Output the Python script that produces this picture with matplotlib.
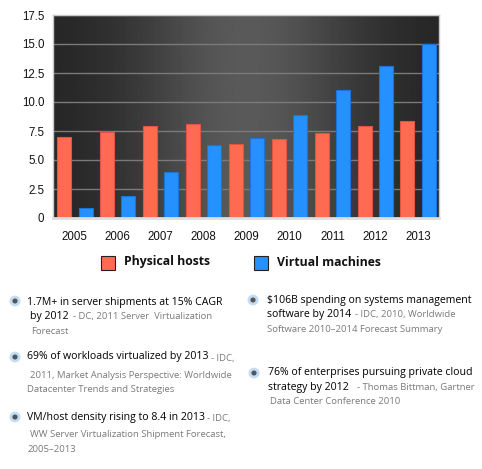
import numpy as np
import matplotlib.pyplot as plt
from matplotlib.patches import Rectangle, Circle

years = ['2005', '2006', '2007', '2008', '2009', '2010', '2011', '2012', '2013']
physical = [7.0, 7.4, 7.9, 8.1, 6.4, 6.8, 7.3, 7.9, 8.4]
virtual = [0.9, 1.9, 4.0, 6.3, 6.9, 8.9, 11.0, 13.1, 15.0]
yticks = [0, 2.5, 5.0, 7.5, 10.0, 12.5, 15.0, 17.5]
ytick_labels = ['0', '2.5', '5.0', '7.5', '10.0', '12.5', '15.0', '17.5']
series_names = ['Physical hosts', 'Virtual machines']

RED = '#ff6a52'
BLUE = '#2491ff'
W, H = 482, 469


def px(x, y):
    return x / W, 1 - y / H


fig = plt.figure(figsize=(W / 100, H / 100), dpi=100)
ax = fig.add_axes([52.7 / W, 1 - 218 / H, 386.3 / W, 203 / H])

# dark background, lighter in the middle
g = np.linspace(-1, 1, 400)
shade = 0.14 + 0.21 * np.exp(-(g / 0.6) ** 2)
img = np.tile(shade, (10, 1))
ax.imshow(img, cmap='gray', vmin=0, vmax=1, extent=[0, 1, 0, 1],
          transform=ax.transAxes, aspect='auto', zorder=0)

n = len(years)
xp = np.arange(n) * 2
xv = xp + 1
ax.bar(xp, physical, width=0.65, color=RED, edgecolor='#e0553f', linewidth=0.8, zorder=2)
ax.bar(xv, virtual, width=0.65, color=BLUE, edgecolor='#1b74d6', linewidth=0.8, zorder=2)

ax.set_xlim(-0.53, 2 * n - 0.53)
ax.set_ylim(0, 17.5)
ax.set_yticks(yticks)
ax.set_yticklabels(ytick_labels)
ax.set_xticks(xp + 0.5)
ax.set_xticklabels(years)
ax.tick_params(axis='both', length=0, labelsize=8.3, colors='#111111')
ax.tick_params(axis='y', pad=6)
ax.tick_params(axis='x', pad=9)
for lab in ax.get_xticklabels() + ax.get_yticklabels():
    lab.set_family('Liberation Sans')

ax.set_axisbelow(True)
ax.yaxis.grid(True, color='#7a7a7a', linewidth=1)
for s in ['top', 'right', 'left']:
    ax.spines[s].set_color('#c8c8c8')
    ax.spines[s].set_linewidth(1)
ax.spines['bottom'].set_color('#dddddd')
ax.spines['bottom'].set_linewidth(2)

# legend
leg_font = dict(family='Open Sans', weight='bold', fontsize=8.8, va='center', ha='left')
for (sx, tx), name, col in zip([(101, 124), (254, 277)], series_names, [RED, BLUE]):
    x0, y0 = px(sx, 270)
    fig.add_artist(Rectangle((x0, y0), 14 / W, 14 / H, transform=fig.transFigure,
                             facecolor=col, edgecolor='#222222', linewidth=0.8))
    fig.text(*px(tx, 262), name, color='#111111', **leg_font)

# notes
black = dict(family='Open Sans', fontsize=7.6, color='#000000', va='center', ha='left')
gray = dict(family='Open Sans', fontsize=6.8, color='#7a7a7a', va='center', ha='left')

bullets = [(15, 301), (15, 357), (15, 417), (253, 300), (254, 373)]
for bx, by in bullets:
    c = px(bx, by)
    fig.add_artist(Circle(c, 5.5 / W, transform=fig.transFigure, facecolor='#c3dcf5',
                          edgecolor='none'))
    fig.add_artist(Circle(c, 2.6 / W, transform=fig.transFigure, facecolor='#555555',
                          edgecolor='none'))

notes_black = [
    (27, 302, '1.7M+ in server shipments at 15% CAGR'),
    (30, 316, 'by 2012'),
    (27, 357, '69% of workloads virtualized by 2013'),
    (27, 417, 'VM/host density rising to 8.4 in 2013'),
    (267, 300, '$106B spending on systems management'),
    (267, 314, 'software by 2014'),
    (268, 373, '76% of enterprises pursuing private cloud'),
    (268, 387, 'strategy by 2012'),
]
notes_gray = [
    (73, 316, '- DC, 2011 Server  Virtualization'),
    (31, 331, 'Forecast'),
    (211, 358, '- IDC,'),
    (30, 375, '2011, Market Analysis Perspective: Worldwide'),
    (27, 390, 'Datacenter Trends and Strategies'),
    (207, 418, '- IDC,'),
    (30, 434, 'WW Server Virtualization Shipment Forecast,'),
    (27, 449, '2005\u20132013'),
    (355, 314, '- IDC, 2010, Worldwide'),
    (267, 330, 'Software 2010\u20132014 Forecast Summary'),
    (357, 387, '- Thomas Bittman, Gartner'),
    (270, 402, 'Data Center Conference 2010'),
]
for x, y, t in notes_black:
    fig.text(*px(x, y), t, **black)
for x, y, t in notes_gray:
    fig.text(*px(x, y), t, **gray)

fig.savefig('out.png', dpi=100, facecolor='white')
